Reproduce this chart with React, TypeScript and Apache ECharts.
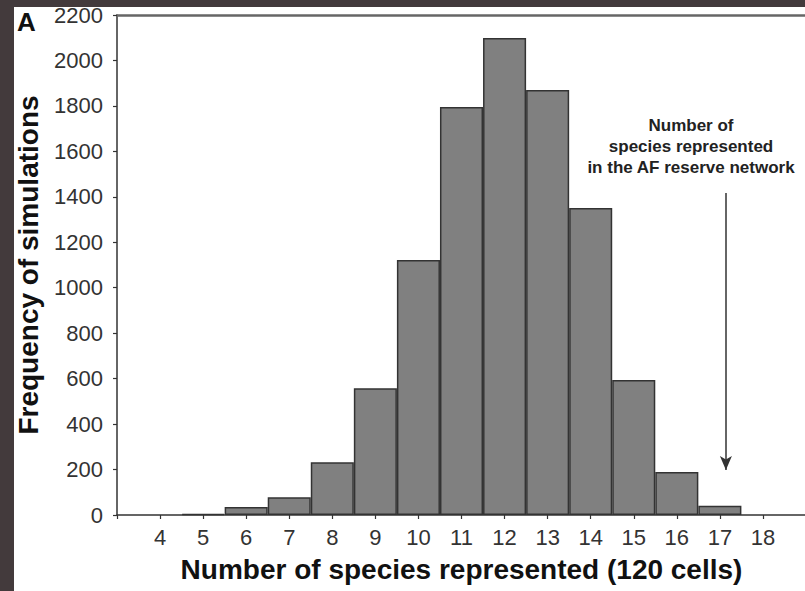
import React, { useEffect, useRef } from "react";
import * as echarts from "echarts";

const speciesCounts = [5, 6, 7, 8, 9, 10, 11, 12, 13, 14, 15, 16, 17];
const frequencies = [5, 35, 78, 232, 558, 1122, 1795, 2099, 1870, 1351, 594, 189, 41];
const xTickLabels = ["4", "5", "6", "7", "8", "9", "10", "11", "12", "13", "14", "15", "16", "17", "18"];
const yTicks = [0, 200, 400, 600, 800, 1000, 1200, 1400, 1600, 1800, 2000, 2200];
const annotationLines = ["Number of", "species represented", "in the AF reserve network"];
const arrowX = 17.14;
const arrowFrom = 1417;
const arrowTo = 198;

export default function App() {
  const ref = useRef<HTMLDivElement>(null);
  useEffect(() => {
    if (!ref.current) return;
    const chart = echarts.init(ref.current, null, { renderer: "svg" });
    const font = "'Liberation Sans', Arial, sans-serif";
    chart.setOption({
      animation: false,
      grid: { left: 117, top: 15, width: 689, height: 500, containLabel: false, outerBoundsMode: "none" },
      xAxis: [
        {
          type: "value",
          min: 3,
          max: 19,
          interval: 1,
          splitLine: { show: false },
          axisLine: { show: true, lineStyle: { color: "#333", width: 1.5 } },
          axisTick: { show: true, length: 4, lineStyle: { color: "#333", width: 1.2 } },
          axisLabel: {
            margin: 11,
            fontSize: 22,
            color: "#333",
            fontFamily: font,
            formatter: (v: number) => (xTickLabels.includes(String(v)) ? String(v) : ""),
          },
          name: "Number of species represented (120 cells)",
          nameLocation: "middle",
          nameGap: 40,
          nameTextStyle: { fontSize: 28, fontWeight: "bold", color: "#111", fontFamily: font },
        },
        {
          type: "value",
          position: "top",
          min: 3,
          max: 19,
          axisLine: { show: true, lineStyle: { color: "#666", width: 2.5 } },
          axisTick: { show: false },
          axisLabel: { show: false },
          splitLine: { show: false },
        },
      ],
      yAxis: {
        type: "value",
        min: yTicks[0],
        max: yTicks[yTicks.length - 1],
        interval: 200,
        splitLine: { show: false },
        axisLine: { show: true, lineStyle: { color: "#333", width: 1.5 } },
        axisTick: { show: true, length: 4, lineStyle: { color: "#333", width: 1.2 } },
        axisLabel: {
          margin: 14,
          fontSize: 22,
          color: "#333",
          fontFamily: font,
          formatter: (v: number) => String(v),
        },
        name: "Frequency of simulations",
        nameLocation: "middle",
        nameGap: 75,
        nameTextStyle: { fontSize: 28, fontWeight: "bold", color: "#111", fontFamily: font },
      },
      series: [
        {
          type: "bar",
          xAxisIndex: 0,
          data: speciesCounts.map((s, i) => [s, frequencies[i]]),
          barWidth: "100%",
          barCategoryGap: "0%",
          itemStyle: { color: "#808080", borderColor: "#333", borderWidth: 1.5 },
          markLine: {
            silent: true,
            symbol: ["none", "arrow"],
            symbolSize: [9, 14],
            label: { show: false },
            lineStyle: { color: "#333", width: 1.5, type: "solid" },
            data: [[{ coord: [arrowX, arrowFrom] }, { coord: [arrowX, arrowTo] }]],
          },
        },
      ],
      graphic: [
        {
          type: "text",
          left: 17,
          top: 9,
          style: { text: "A", font: `bold 26px ${font}`, fill: "#111" },
        },
        {
          type: "text",
          x: 691,
          y: 146,
          style: {
            text: annotationLines.join("\n"),
            font: `bold 17px ${font}`,
            fill: "#222",
            align: "center",
            verticalAlign: "middle",
            lineHeight: 21,
          },
        },
      ],
    });
    return () => chart.dispose();
  }, []);
  return (
    <div style={{ position: "fixed", left: 0, top: 0, width: 805, height: 591, background: "#ffffff" }}>
      <div style={{ position: "absolute", left: 0, top: 0, width: 805, height: 7, background: "#433a3c" }} />
      <div style={{ position: "absolute", left: 0, top: 0, width: 14, height: 591, background: "#433a3c" }} />
      <div ref={ref} style={{ position: "absolute", left: 0, top: 0, width: 805, height: 591 }} />
    </div>
  );
}
